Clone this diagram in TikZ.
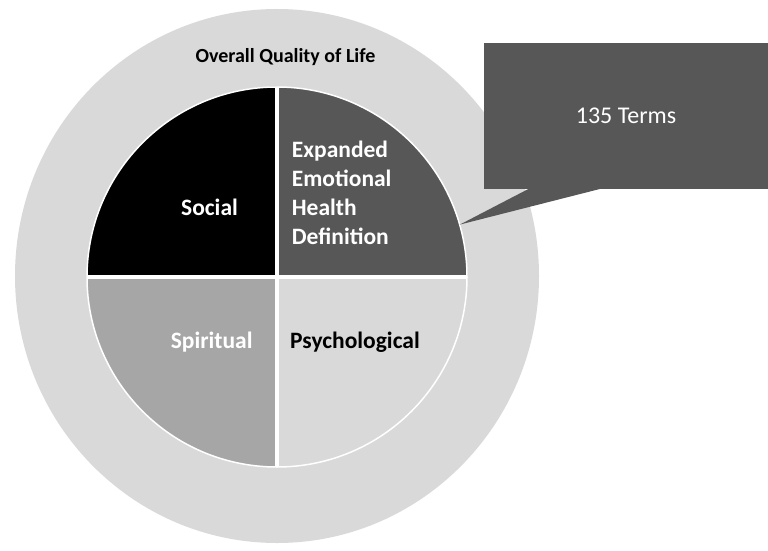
\documentclass[tikz,border=0pt]{standalone}
\usepackage{fontspec}
\setmainfont{Carlito}
\usepackage{xcolor}
\definecolor{colorRing}{HTML}{D9D9D9}
\definecolor{colorSocial}{HTML}{000000}
\definecolor{colorEmotional}{HTML}{575757}
\definecolor{colorSpiritual}{HTML}{A6A6A6}
\definecolor{colorPsych}{HTML}{D9D9D9}
\usepackage{tikz}
\usetikzlibrary{calc}

\begin{document}
\begin{tikzpicture}[x=1pt, y=1pt, every node/.style={inner sep=0pt},
  domain text/.style={font=\bfseries\fontsize{23.5}{28.7}\selectfont}]
\useasboundingbox (0,0) rectangle (768,550);
% outer ring and the four quarters
\fill[colorRing] (277,274) ellipse [x radius=262, y radius=267];
\node[circle, minimum size=380] (pie) at (277,273) {};
\fill[colorSocial] (pie.center) -- (pie.90) arc[start angle=90, end angle=180, radius=190] -- cycle;
\fill[colorEmotional] (pie.center) -- (pie.0) arc[start angle=0, end angle=90, radius=190] -- cycle;
\fill[colorSpiritual] (pie.center) -- (pie.180) arc[start angle=180, end angle=270, radius=190] -- cycle;
\fill[colorPsych] (pie.center) -- (pie.270) arc[start angle=270, end angle=360, radius=190] -- cycle;
\draw[white, line width=1.5] (pie.center) circle [radius=190];
\draw[white, line width=4.5] (pie.west) -- (pie.east);
\draw[white, line width=4.5] (pie.north) -- (pie.south);
% labels
\node[font=\bfseries\fontsize{20}{24}\selectfont, anchor=base] (overall) at (285.5,487.3) {Overall Quality of Life};
\node[domain text, text=white, anchor=base] (social) at (209.5,335) {Social};
% base of a multi-line node sits on its last line
\node[domain text, text=white, anchor=base west, align=left] (emotional) at (291.7,306) {Expanded\\Emotional\\Health\\Definition};
\node[domain text, text=white, anchor=base] (spiritual) at (211.7,202) {Spiritual};
\node[domain text, text=black, anchor=base] (psych) at (355,202) {Psychological};
% callout
\node[fill=colorEmotional, minimum width=284, minimum height=146, text=white,
  font=\fontsize{24}{29}\selectfont] (terms) at (626,434) {135 Terms};
\fill[colorEmotional] ($(terms.south west)!0.162!(terms.south east)+(0,1)$) -- (pie.16)
  -- ($(terms.south west)!0.419!(terms.south east)+(0,1)$) -- cycle;
\end{tikzpicture}
\end{document}
